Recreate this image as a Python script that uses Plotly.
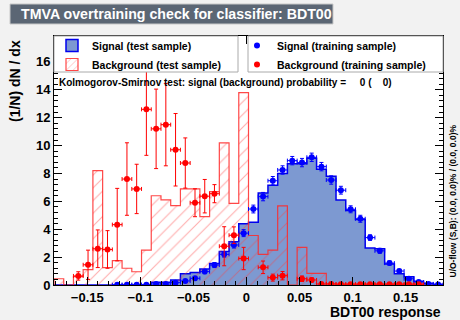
import plotly.graph_objects as go

# ---------------- data ----------------
XMIN, XMAX, NBINS = -0.1814, 0.1852, 40

sig_test = [0, 0, 0, 0, 0, 0, 0, 0, 0, 0,
            0.2, 0.2, 0.35, 0.8, 0.9, 1.15, 1.55, 2.4, 3.1, 4.4,
            4.5, 6.6, 7.15, 8.0, 8.7, 8.7, 9.1, 8.3, 7.8, 6.1,
            5.35, 4.7, 2.65, 2.6, 1.5, 0.8, 0.6, 0.27, 0.12, 0.06]

bkg_test = [0.45, 0, 0.6, 1.1, 8.2, 1.25, 1.75, 1.2, 0.95, 2.5,
            6.4, 6.1, 5.7, 6.9, 6.9, 4.9, 6.7, 10.2, 5.85, 13.8,
            3.55, 2.2, 2.5, 5.67, 0, 2.7, 0.84, 0.84, 0.08, 0.08,
            0.08, 0.08, 0.08, 0.08, 0.08, 0.08, 0.08, 0.08, 0, 0]

sig_train = [None, None, None, None, None, None, 0.02, 0.02, 0.02, 0.02,
             0.07, 0.07, 0.17, 0.29, 0.48, 0.96, 1.43, 2.2, 2.87, 3.72,
             5.45, 6.34, 7.48, 8.25, 8.92, 8.78, 9.16, 8.49, 7.53, 6.8,
             5.43, 4.75, 3.4, 2.45, 1.57, 1.0, 0.45, 0.21, 0.08, 0.03]
sig_train_err = [0, 0, 0, 0, 0, 0, 0.02, 0.02, 0.02, 0.02,
                 0.05, 0.05, 0.08, 0.1, 0.12, 0.15, 0.18, 0.2, 0.22, 0.25,
                 0.28, 0.3, 0.3, 0.3, 0.3, 0.3, 0.3, 0.3, 0.3, 0.28,
                 0.25, 0.25, 0.2, 0.18, 0.15, 0.12, 0.08, 0.05, 0.03, 0.02]

bkg_train = [None, None, 0.65, 1.45, 2.6, 2.55, 4.33, 7.6, 6.89, 12.6,
             11.2, 11.5, 9.7, 8.75, 5.9, 6.37, 6.55, 2.78, 3.57, 1.9,
             None, 1.27, 0.53, 0.67, None, 0.45, 0.36, 0.07, 0.07, 0.05,
             0.05, 0.05, 0.05, 0.05, 0.05, 0.05, 0.05, 0.05, None, None]
bkg_train_err = [0, 0, 0.3, 1.05, 1.35, 1.35, 2.6, 2.6, 1.77, 3.3,
                 2.85, 2.95, 2.6, 1.8, 1.0, 1.2, 0.65, 1.4, 0.6, 0.8,
                 0, 0.45, 0.25, 0.3, 0, 0.2, 0.15, 0.05, 0.05, 0.05,
                 0.05, 0.05, 0.05, 0.05, 0.05, 0.05, 0.05, 0.05, 0, 0]

x_ticks = [-0.15, -0.1, -0.05, 0, 0.05, 0.1, 0.15]
x_ticktext = ["\u22120.15", "\u22120.1", "\u22120.05", "0", "0.05", "0.1", "0.15"]
y_ticks = [0, 2, 4, 6, 8, 10, 12, 14, 16]

title_text = "TMVA overtraining check for classifier: BDT00"
ks_text = "Kolmogorov-Smirnov test: signal (background) probability =     0 (    0)"
uo_text = "U/O-flow (S,B): (0.0, 0.0)% / (0.0, 0.0)%"

# ---------------- derived ----------------
bw = (XMAX - XMIN) / NBINS
edges = [XMIN + i * bw for i in range(NBINS + 1)]
centers = [XMIN + (i + 0.5) * bw for i in range(NBINS)]

def step(vals):
    xs = [edges[0]] + edges[:NBINS] + [edges[NBINS], edges[NBINS]]
    ys = [0] + list(vals) + [vals[-1], 0]
    return xs, ys

FONT = "Liberation Sans"
SIG_FILL = "#7d99d1"
SIG_LINE = "#0000ee"
BKG_LINE = "rgba(255,40,40,0.85)"
BKG_HATCH = dict(shape="/", fgcolor="rgba(255,60,60,0.85)", bgcolor="rgba(0,0,0,0)",
                 size=9, solidity=0.12, fillmode="overlay")

fig = go.Figure()

sx, sy = step(sig_test)
fig.add_trace(go.Scatter(x=sx, y=sy, mode="lines", line=dict(shape="hv", color=SIG_LINE, width=1.5),
                         fill="tozeroy", fillcolor=SIG_FILL, showlegend=False))
bx, by = step(bkg_test)
fig.add_trace(go.Scatter(x=bx, y=by, mode="lines", line=dict(shape="hv", color=BKG_LINE, width=1.2),
                         fill="tozeroy", fillcolor="rgba(0,0,0,0)", fillpattern=BKG_HATCH,
                         showlegend=False))

# legend entries (boxes) for the test-sample histograms
fig.add_trace(go.Bar(x=[None], y=[None], name="Signal (test sample)", legend="legend",
                     marker=dict(color=SIG_FILL, line=dict(color=SIG_LINE, width=1.5))))
fig.add_trace(go.Bar(x=[None], y=[None], name="Background (test sample)", legend="legend",
                     marker=dict(color="rgba(0,0,0,0)", line=dict(color=BKG_LINE, width=1.2),
                                 pattern=dict(shape="/", fgcolor="rgba(255,60,60,0.85)",
                                              bgcolor="white", size=6, solidity=0.15,
                                              fillmode="overlay"))))

fig.add_trace(go.Scatter(x=centers, y=sig_train, mode="markers",
                         marker=dict(color="#0000ff", size=6),
                         error_y=dict(type="data", array=sig_train_err, color="#0000ff", thickness=1, width=2),
                         error_x=dict(type="constant", value=bw / 2, color="#0000ff", thickness=1, width=2),
                         name="Signal (training sample)", legend="legend2"))
fig.add_trace(go.Scatter(x=centers, y=bkg_train, mode="markers",
                         marker=dict(color="#ff0000", size=6),
                         error_y=dict(type="data", array=bkg_train_err, color="#ff0000", thickness=1, width=2),
                         error_x=dict(type="constant", value=bw / 2, color="#ff0000", thickness=1, width=2),
                         name="Background (training sample)", legend="legend2"))

L, R, T, B = 54, 17, 36, 35
PW, PH = 460 - L - R, 320 - T - B

def px(x):
    return (x - L) / PW

def py(y):
    return (320 - B - y) / PH

axis_common = dict(showgrid=False, zeroline=False, showline=True, linecolor="black", linewidth=1,
                   mirror="allticks", ticks="inside", ticklen=8, tickcolor="black",
                   tickfont=dict(family=FONT, size=13, color="black", weight="bold"))

legend_common = dict(yanchor="top", y=py(31), bgcolor="rgba(0,0,0,0)", borderwidth=0,
                     font=dict(family=FONT, size=10.5, color="black", weight="bold"),
                     itemwidth=30, tracegroupgap=0)

fig.update_layout(
    width=460, height=320,
    margin=dict(l=L, r=R, t=T, b=B, autoexpand=False),
    paper_bgcolor="#f2f2f2", plot_bgcolor="white",
    xaxis=dict(range=[XMIN, XMAX], tickvals=x_ticks, ticktext=x_ticktext,
               minor=dict(ticks="inside", ticklen=4, dtick=0.01, tick0=0, tickcolor="black"),
               **axis_common),
    yaxis=dict(range=[0, 17.86], tickvals=y_ticks,
               minor=dict(ticks="inside", ticklen=4, dtick=0.4, tick0=0, tickcolor="black"),
               **axis_common),
    legend=dict(x=px(52), xanchor="left", **legend_common),
    legend2=dict(x=px(237), xanchor="left", **legend_common),
    showlegend=True,
)

# legend boxes
for x0, x1 in [(54, 238), (248, 443)]:
    fig.add_shape(type="rect", xref="paper", yref="paper", x0=px(x0), x1=px(x1), y0=py(72), y1=py(36),
                  fillcolor="white", line=dict(color="#aaaaaa", width=1), layer="above")

# title box
fig.add_shape(type="rect", xref="paper", yref="paper", x0=px(10), x1=px(333), y0=py(24), y1=py(4),
              fillcolor="#5b6674", line=dict(color="#c8c8c8", width=1), layer="above")
fig.add_annotation(text=title_text, xref="paper", yref="paper", x=px(19), y=py(14),
                   xanchor="left", yanchor="middle", showarrow=False,
                   font=dict(family=FONT, size=14.2, color="white", weight="bold"))
fig.add_annotation(text=ks_text, xref="paper", yref="paper", x=px(57), y=py(82),
                   xanchor="left", yanchor="middle", showarrow=False,
                   font=dict(family=FONT, size=10, color="black", weight="bold"))
fig.add_annotation(text="BDT00 response", xref="paper", yref="paper", x=1.0, y=py(312),
                   xanchor="right", yanchor="middle", showarrow=False,
                   font=dict(family=FONT, size=14, color="black", weight="bold"))
fig.add_annotation(text="(1/N) dN / dx", xref="paper", yref="paper", x=px(15), y=py(38),
                   xanchor="center", yanchor="top", textangle=-90, showarrow=False,
                   font=dict(family=FONT, size=14, color="black", weight="bold"))
fig.add_annotation(text=uo_text, xref="paper", yref="paper", x=px(452), y=py(279),
                   xanchor="center", yanchor="bottom", textangle=-90, showarrow=False,
                   font=dict(family=FONT, size=8.5, color="black", weight="bold"))

fig.write_html("out.html")
